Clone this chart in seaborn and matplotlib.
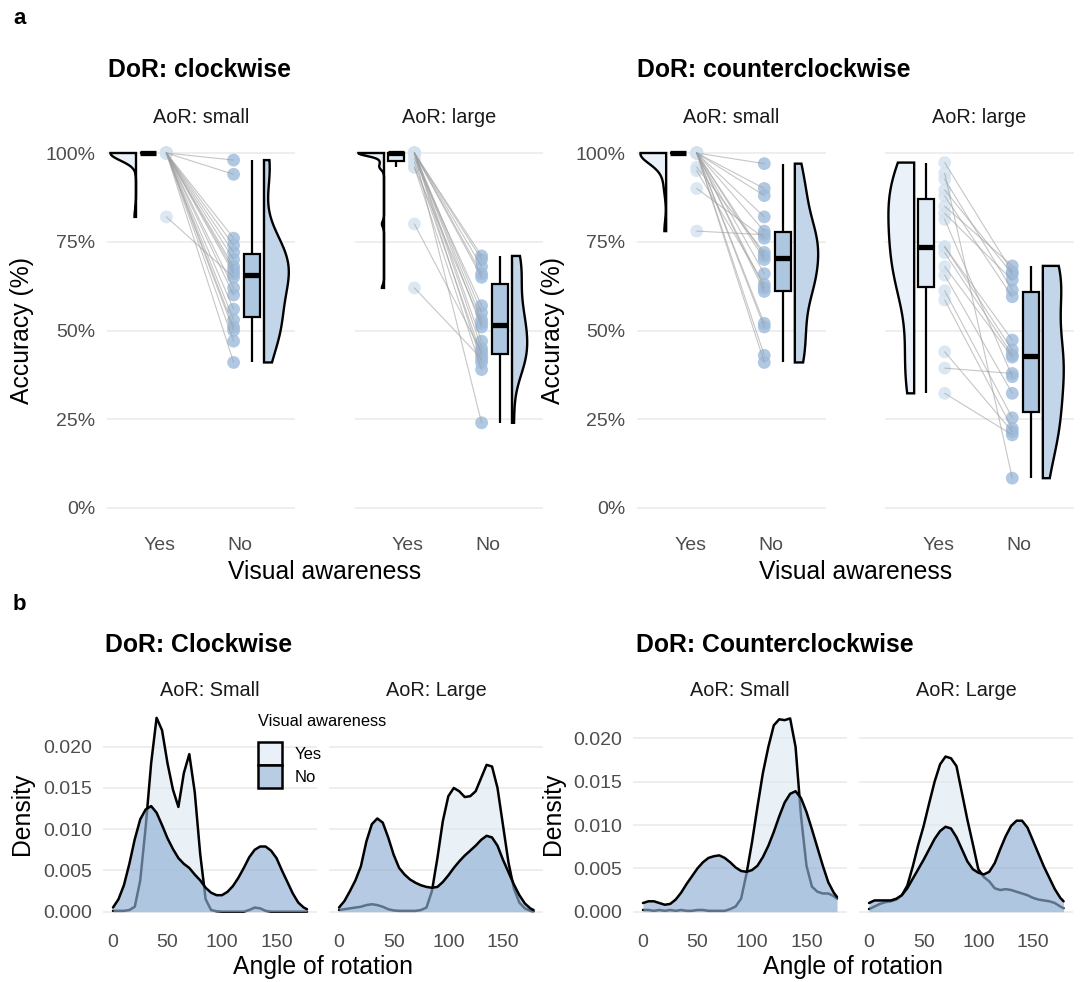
import numpy as np
import pandas as pd
import matplotlib
matplotlib.use("Agg")
import matplotlib.pyplot as plt
import seaborn as sns
from matplotlib.patches import Patch

# ---------------- data: panel a (accuracy %, one entry per participant) ----------------
yes_cw_small = [100, 100, 100, 100, 100, 100, 100, 100, 100, 82, 100, 100, 100, 100, 100, 100, 100, 100]
no_cw_small = [98, 94, 76, 74, 72, 70, 68, 67, 66, 65, 62, 60, 56, 53, 51, 50, 47, 41]
yes_cw_large = [100, 100, 100, 100, 100, 98.5, 100, 100, 96, 100, 80, 100, 100, 62, 97.5, 100, 96, 100]
no_cw_large = [71, 70, 68, 66, 65, 57, 55, 53, 52, 51, 44, 47, 45, 42, 43, 41, 39, 24]
yes_ccw_small = [100, 100, 100, 100, 100, 78, 90, 96, 100, 100, 100, 95, 100, 100, 100, 100, 100, 100]
no_ccw_small = [97, 90, 88, 82, 78, 77, 76, 72, 71, 70, 66, 63, 62, 61, 52, 51, 43, 41]
yes_ccw_large = [97.3, 94.3, 92.6, 89.6, 87.9, 85, 83, 81.3, 73.6, 73.6, 71.9, 68, 65.6, 61.2, 58.6, 44, 39.4, 32.3]
no_ccw_large = [66.5, 8.4, 61.4, 65.9, 59.5, 68.2, 64.2, 37, 47.3, 44.5, 43.1, 42.5, 32.3, 25.4, 22.4, 21.5, 37.9, 20.6]

awareness = ["Yes", "No"]
acc_ticks = [0, 25, 50, 75, 100]
acc_labels = ["0%", "25%", "50%", "75%", "100%"]

# ---------------- data: panel b (density x 1000 read at these angles) ----------------
angles = list(range(0, 180, 5)) + [178]
dens_cw_small_yes = [0.1, 0.1, 0.1, 0.2, 0.6, 3.8, 10.3, 18.0, 23.5, 22.0, 18.0, 14.8, 12.7, 16.8, 19.1, 14.5, 7.0, 1.5, 0.2, 0.05,
                     0, 0, 0, 0, 0, 0.2, 0.5, 0.4, 0.1, 0, 0, 0, 0, 0, 0, 0, 0]
dens_cw_small_no = [0.5, 1.5, 3.2, 5.8, 8.8, 11.2, 12.4, 12.8, 12.0, 10.5, 8.9, 7.6, 6.5, 5.8, 5.3, 4.5, 3.8, 2.9, 2.3, 2.0,
                    2.0, 2.4, 3.1, 4.1, 5.3, 6.6, 7.5, 7.9, 7.9, 7.4, 6.5, 5.0, 3.6, 2.2, 1.1, 0.5, 0.3]
dens_cw_large_yes = [0.2, 0.3, 0.4, 0.5, 0.6, 0.8, 0.9, 0.8, 0.6, 0.3, 0.15, 0.1, 0.1, 0.1, 0.1, 0.2, 0.5, 2.5, 6.5, 11.0,
                     14.0, 15.0, 14.6, 13.9, 14.0, 14.6, 16.2, 17.8, 17.6, 15.0, 10.5, 6.0, 2.8, 1.1, 0.4, 0.1, 0.05]
dens_cw_large_no = [0.5, 1.3, 2.5, 3.8, 5.5, 8.5, 10.6, 11.3, 10.8, 9.0, 6.9, 5.3, 4.5, 3.9, 3.5, 3.2, 3.0, 2.9, 3.0, 3.6,
                    4.4, 5.3, 6.1, 6.8, 7.4, 8.0, 8.7, 9.2, 9.0, 8.0, 6.3, 4.8, 3.3, 2.0, 1.0, 0.4, 0.2]
dens_ccw_small_yes = [0.2, 0.2, 0.1, 0.2, 0.1, 0.2, 0.1, 0.2, 0.1, 0.1, 0.2, 0.2, 0.1, 0.1, 0.1, 0.1, 0.3, 0.6, 1.5, 4.4,
                      8.0, 12.1, 16.0, 19.0, 21.5, 22.2, 22.1, 22.3, 19.0, 11.0, 5.3, 2.9, 2.3, 2.1, 2.1, 1.8, 1.5]
dens_ccw_small_no = [1.0, 1.2, 1.2, 1.0, 0.8, 0.9, 1.4, 2.2, 3.2, 4.1, 5.0, 5.7, 6.2, 6.4, 6.5, 6.2, 5.7, 5.1, 4.7, 4.6,
                     4.8, 5.3, 6.3, 7.6, 9.2, 11.0, 12.6, 13.6, 13.9, 13.1, 11.5, 9.5, 7.4, 5.3, 3.4, 2.2, 1.7]
dens_ccw_large_yes = [0.3, 0.6, 0.9, 1.1, 1.2, 1.4, 1.9, 3.0, 5.2, 7.7, 9.9, 12.5, 15.0, 17.0, 17.9, 17.7, 16.8, 13.7, 10.6, 7.8,
                      4.9, 4.0, 3.5, 2.7, 2.5, 2.6, 2.5, 2.3, 2.1, 1.9, 1.6, 1.4, 1.3, 1.2, 1.0, 0.6, 0.4]
dens_ccw_large_no = [1.0, 1.3, 1.3, 1.3, 1.3, 1.5, 1.9, 2.7, 3.8, 4.9, 6.0, 7.2, 8.4, 9.3, 9.8, 9.6, 8.6, 7.2, 5.8, 4.9,
                     4.5, 4.3, 4.6, 5.6, 7.2, 8.7, 9.9, 10.5, 10.5, 9.7, 8.2, 6.7, 5.2, 3.9, 2.6, 1.6, 1.2]
angle_ticks = [0, 50, 100, 150]
dens_ticks = [0.0, 0.005, 0.010, 0.015, 0.020]

# ---------------- style ----------------
sns.set_style("white")
plt.rcParams["font.family"] = ["Liberation Sans", "DejaVu Sans"]
plt.rcParams["text.color"] = "black"

VIO_YES, BOX_YES, PT_YES = "#eaf1f8", "#e1ebf5", "#d3e2ef"
VIO_NO, BOX_NO, PT_NO = "#c3d5e9", "#aec7e1", "#9dbbdb"
FILL_YES, FILL_NO = "#dbe8f3", "#8fb0d4"
GRID = "#ebebeb"
TICKC = "#4d4d4d"
TICK_FS, STRIP_FS, AXIS_FS, TITLE_FS = 14, 14.3, 17.8, 17.8

W, H = 1080, 982
fig = plt.figure(figsize=(W / 100, H / 100), dpi=100)


def add_ax(l, t, r, b):
    return fig.add_axes([l / W, 1 - b / H, (r - l) / W, (b - t) / H])


def ftext(x, y, s, **kw):
    kw.setdefault("va", "center")
    kw.setdefault("color", "black")
    fig.text(x / W, 1 - y / H, s, **kw)


def kde_nrd0(vals, n=512):
    x = np.asarray(vals, float)
    sd = x.std(ddof=1)
    q75, q25 = np.percentile(x, [75, 25])
    lo = min(sd, (q75 - q25) / 1.34)
    if lo <= 0:
        lo = sd
    bw = 0.9 * lo * len(x) ** -0.2
    grid = np.linspace(x.min(), x.max(), n)
    d = np.exp(-0.5 * ((grid[:, None] - x[None, :]) / bw) ** 2).sum(1)
    return grid, d / d.max()


def style_ax(ax, show_y):
    for s in ax.spines.values():
        s.set_visible(False)
    ax.grid(axis="y", color=GRID, lw=1.2)
    ax.grid(axis="x", visible=False)
    ax.set_axisbelow(True)
    ax.set_xlabel("")
    ax.set_ylabel("")
    ax.tick_params(axis="both", length=0, labelsize=TICK_FS, labelcolor=TICKC)
    ax.tick_params(axis="y", pad=8.4)
    if not show_y:
        ax.tick_params(axis="y", labelleft=False)


def rain(ax, yes, no, show_y, no_width):
    n = len(yes)
    for vals, pos, side, col, wid in [(yes, 0.70, -1, VIO_YES, 0.32), (no, 2.30, 1, VIO_NO, no_width)]:
        g, d = kde_nrd0(vals)
        xs = np.concatenate([[pos], pos + side * d * wid, [pos]])
        ys = np.concatenate([[g[0]], g, [g[-1]]])
        ax.fill(xs, ys, facecolor=col, edgecolor="black", lw=1.7, zorder=2)
    df = pd.DataFrame({"pid": list(range(n)) * 2,
                       "grp": ["Yes"] * n + ["No"] * n,
                       "acc": list(yes) + list(no)})
    df["bpos"] = df["grp"].map({"Yes": 0.85, "No": 2.15})
    df["ppos"] = df["grp"].map({"Yes": 1.08, "No": 1.92})
    sns.boxplot(data=df, x="bpos", y="acc", hue="grp", palette={"Yes": BOX_YES, "No": BOX_NO},
                native_scale=True, width=0.2 / 1.3, showfliers=False, saturation=1,
                linecolor="black", linewidth=1.6, medianprops=dict(linewidth=3.8),
                capprops=dict(linewidth=0), legend=False, ax=ax)
    sns.scatterplot(data=df, x="ppos", y="acc", hue="grp", palette={"Yes": PT_YES, "No": PT_NO},
                    s=85, alpha=0.8, edgecolor="none", legend=False, ax=ax, zorder=3)
    sns.lineplot(data=df, x="ppos", y="acc", units="pid", estimator=None, sort=False,
                 color="#a0a0a0", lw=0.8, alpha=0.6, ax=ax, zorder=4)
    ax.set_xlim(0.3375, 2.6875)
    ax.set_ylim(-5, 105)
    ax.set_xticks([1, 2], awareness)
    ax.set_yticks(acc_ticks, acc_labels)
    style_ax(ax, show_y)
    ax.tick_params(axis="x", pad=8.0)


def dens(ax, yes, no, ylim, show_y):
    a = np.array(angles, float)
    y1 = np.array(yes) * 1e-3
    y2 = np.array(no) * 1e-3
    ax.fill_between(a, y1, color=FILL_YES, alpha=0.6, lw=0, zorder=2)
    sns.lineplot(x=a, y=y1, color="black", lw=1.8, estimator=None, sort=False, ax=ax, zorder=3)
    ax.fill_between(a, y2, color=FILL_NO, alpha=0.65, lw=0, zorder=4)
    sns.lineplot(x=a, y=y2, color="black", lw=1.8, estimator=None, sort=False, ax=ax, zorder=5)
    ax.set_xlim(-8.9, 186.9)
    ax.set_ylim(*ylim)
    ax.set_xticks(angle_ticks, [str(t) for t in angle_ticks])
    ax.set_yticks(dens_ticks, [f"{t:.3f}" for t in dens_ticks])
    style_ax(ax, show_y)
    ax.tick_params(axis="x", pad=9.3)


# ---------------- panel a ----------------
AT, AB = 135.25, 525.75
rain(add_ax(107, AT, 295, AB), yes_cw_small, no_cw_small, True, 0.31)
rain(add_ax(355, AT, 543, AB), yes_cw_large, no_cw_large, False, 0.19)
rain(add_ax(637, AT, 826, AB), yes_ccw_small, no_ccw_small, True, 0.29)
rain(add_ax(885, AT, 1074, AB), yes_ccw_large, no_ccw_large, False, 0.26)

ftext(13, 19, "a", weight="bold", size=16)
ftext(108, 70, "DoR: clockwise", weight="bold", size=TITLE_FS)
ftext(637, 70, "DoR: counterclockwise", weight="bold", size=TITLE_FS)
for cx, lab in [(201, "AoR: small"), (449, "AoR: large"), (731.5, "AoR: small"), (979.5, "AoR: large")]:
    ftext(cx, 117, lab, size=STRIP_FS, ha="center", color="#1a1a1a")
ftext(325, 572, "Visual awareness", size=AXIS_FS, ha="center")
ftext(855.5, 572, "Visual awareness", size=AXIS_FS, ha="center")
ftext(22, 330, "Accuracy (%)", size=AXIS_FS, ha="center", rotation=90)
ftext(553, 330, "Accuracy (%)", size=AXIS_FS, ha="center", rotation=90)

# ---------------- panel b ----------------
ylim_l = (-0.00118, 0.02478)
ylim_r = (-0.00112, 0.02342)
dens(add_ax(103.3, 707.3, 316.7, 921.4), dens_cw_small_yes, dens_cw_small_no, ylim_l, True)
dens(add_ax(329.3, 707.3, 543.3, 921.4), dens_cw_large_yes, dens_cw_large_no, ylim_l, False)
dens(add_ax(633.3, 708.7, 846.7, 921.4), dens_ccw_small_yes, dens_ccw_small_no, ylim_r, True)
dens(add_ax(859.3, 708.7, 1073.3, 921.4), dens_ccw_large_yes, dens_ccw_large_no, ylim_r, False)

ftext(13, 604, "b", weight="bold", size=16)
ftext(105, 645, "DoR: Clockwise", weight="bold", size=TITLE_FS)
ftext(636, 645, "DoR: Counterclockwise", weight="bold", size=TITLE_FS)
for cx, lab in [(210, "AoR: Small"), (436.3, "AoR: Large"), (740, "AoR: Small"), (966.3, "AoR: Large")]:
    ftext(cx, 690, lab, size=STRIP_FS, ha="center", color="#1a1a1a")
ftext(323, 967, "Angle of rotation", size=AXIS_FS, ha="center")
ftext(853, 967, "Angle of rotation", size=AXIS_FS, ha="center")
ftext(22, 814, "Density", size=AXIS_FS, ha="center", rotation=90)
ftext(553, 814, "Density", size=AXIS_FS, ha="center", rotation=90)

# legend
ftext(258, 721, "Visual awareness", size=11.8, ha="left")
handles = [Patch(facecolor="#e9f0f7", edgecolor="black", lw=1.8),
           Patch(facecolor="#b8cde4", edgecolor="black", lw=1.8)]
leg = fig.legend(handles, awareness, loc="upper left",
                 bbox_to_anchor=(258 / W, 1 - 742 / H), frameon=False, fontsize=12,
                 handlelength=1.44, handleheight=1.75, labelspacing=0.0,
                 handletextpad=0.75, borderpad=0, borderaxespad=0)
for t in leg.get_texts():
    t.set_color("black")

fig.savefig("out.png", dpi=100)
